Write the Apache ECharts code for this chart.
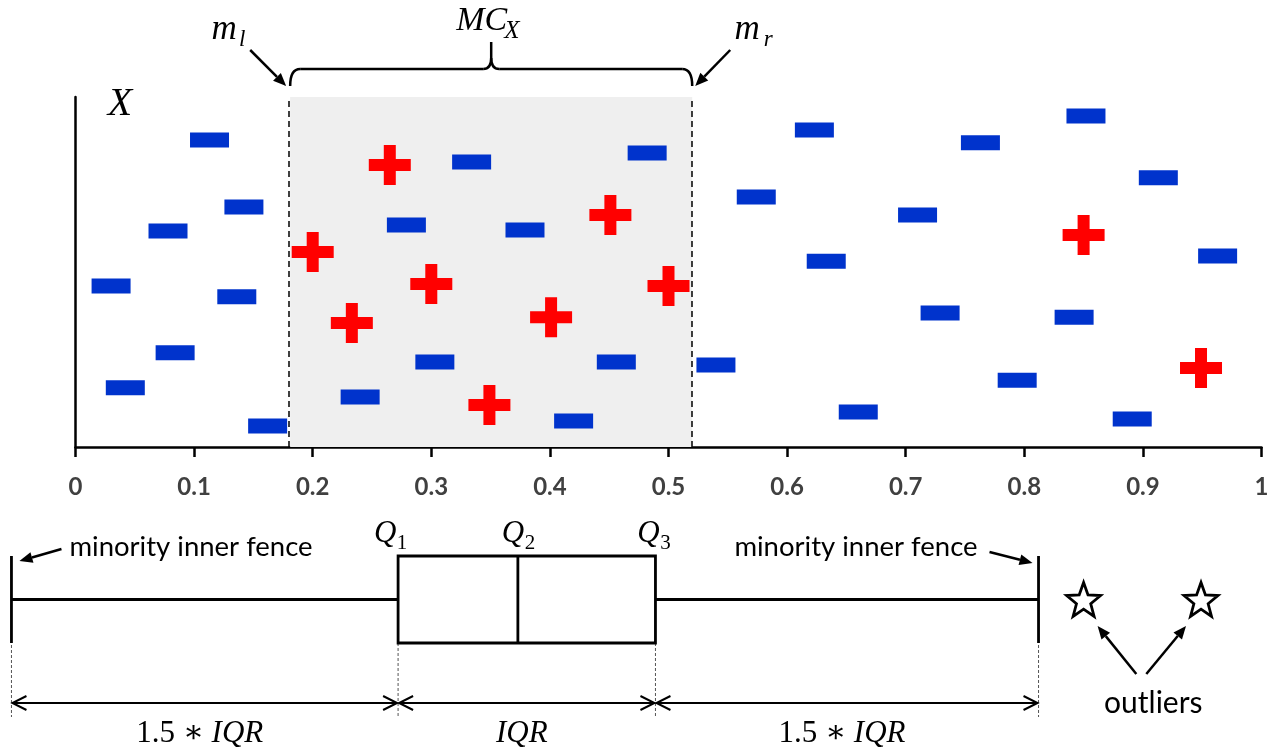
<!DOCTYPE html>
<html>
<head>
<meta charset="utf-8">
<title>MC_X overlap and minority boxplot</title>
<script src="https://cdn.jsdelivr.net/npm/echarts@6/dist/echarts.min.js"></script>
<style>
  html, body { margin: 0; padding: 0; background: #fff; }
  #main { width: 1274px; height: 753px; }
</style>
</head>
<body>
<div id="main"></div>
<script>
// majority class samples (blue bars)
var majorityX = [0.113, 0.142, 0.078, 0.030, 0.136, 0.084, 0.042, 0.162, 0.334, 0.279,
                 0.379, 0.482, 0.303, 0.240, 0.456, 0.420, 0.540, 0.574, 0.623, 0.633,
                 0.710, 0.763, 0.852, 0.913, 0.963, 0.729, 0.842, 0.794, 0.660, 0.891];
var majorityY = [8.77, 6.86, 6.17, 4.60, 4.29, 2.69, 1.69, 0.60, 8.14, 6.34,
                 6.20, 8.40, 2.43, 1.43, 2.43, 0.74, 2.34, 7.14, 9.06, 5.31,
                 6.63, 8.69, 9.46, 7.69, 5.46, 3.83, 3.71, 1.91, 1.00, 0.80];
// minority class samples (red crosses)
var minorityX = [0.265, 0.200, 0.300, 0.233, 0.451, 0.500, 0.401, 0.349, 0.850, 0.949];
var minorityY = [8.06, 5.57, 4.66, 3.54, 6.63, 4.60, 3.71, 1.20, 6.06, 2.26];
// overlap region m_l .. m_r
var overlap = [0.181, 0.52];
// minority boxplot: lower fence, Q1, Q2, Q3, upper fence
var boxValues = [-0.054, 0.272, 0.373, 0.489, 0.812];
var outliers = [0.85, 0.949];

var mathFont = '"Liberation Serif", "DejaVu Serif", serif';
var sansFont = 'Lato, "Open Sans", sans-serif';

var plusPath = 'path://M15,0H27V14H42V26H27V40H15V26H0V14H15Z';
var starPath = 'path://M50,0L62.34,33.01L97.55,34.55L69.97,56.49L79.39,90.45L50,71L20.61,90.45L30.03,56.49L2.45,34.55L37.66,33.01Z';

function pairs(xs, ys) {
  var out = [];
  for (var i = 0; i < xs.length; i++) out.push([xs[i], ys[i]]);
  return out;
}

var option = {
  animation: false,
  backgroundColor: '#fff',
  grid: [
    {left: 75.5, right: 12.5, top: 97, bottom: 306},
    // same scale as the top axis, shifted to show the lower fence
    {left: 4.34, right: 12.5, top: 556, height: 87}
  ],
  xAxis: [
    {
      type: 'value', gridIndex: 0, min: 0, max: 1, interval: 0.1,
      axisLine: {show: true, lineStyle: {color: '#000', width: 2.5}},
      axisTick: {show: true, length: 10, lineStyle: {color: '#000', width: 2.5}},
      axisLabel: {margin: 28, color: '#404040', fontSize: 24, fontWeight: 'bold', fontFamily: sansFont},
      splitLine: {show: false}
    },
    {type: 'value', gridIndex: 1, min: -0.06, max: 1, show: false}
  ],
  yAxis: [
    {
      type: 'value', gridIndex: 0, min: 0, max: 10,
      axisLine: {show: true, lineStyle: {color: '#000', width: 2.5}},
      axisTick: {show: false}, axisLabel: {show: false}, splitLine: {show: false}
    },
    {type: 'category', gridIndex: 1, data: ['minority'], show: false}
  ],
  series: [
    {
      name: 'majority', type: 'scatter', xAxisIndex: 0, yAxisIndex: 0,
      symbol: 'rect', symbolSize: [39, 15],
      itemStyle: {color: '#0033cc', opacity: 1},
      data: pairs(majorityX, majorityY),
      markArea: {
        silent: true, z: 1,
        itemStyle: {color: '#efefef'},
        data: [[{xAxis: overlap[0]}, {xAxis: overlap[1]}]]
      },
      markLine: {
        silent: true, symbol: 'none', label: {show: false},
        lineStyle: {color: '#000', width: 1.5, type: [6, 4]},
        data: [{xAxis: overlap[0]}, {xAxis: overlap[1]}]
      }
    },
    {
      name: 'minority', type: 'scatter', xAxisIndex: 0, yAxisIndex: 0,
      symbol: plusPath, symbolSize: [42, 40],
      itemStyle: {color: '#ff0000', opacity: 1},
      data: pairs(minorityX, minorityY)
    },
    {
      name: 'box', type: 'boxplot', xAxisIndex: 1, yAxisIndex: 1,
      boxWidth: [87, 87],
      itemStyle: {color: '#fff', borderColor: '#000', borderWidth: 2.8},
      data: [boxValues]
    },
    {
      name: 'outliers', type: 'scatter', xAxisIndex: 1, yAxisIndex: 1,
      symbol: starPath, symbolSize: 34,
      itemStyle: {color: '#fff', borderColor: '#000', borderWidth: 2.8, opacity: 1},
      data: outliers.map(function (v) { return [v, 'minority']; })
    }
  ]
};

var chart = echarts.init(document.getElementById('main'));
chart.setOption(option);

// pixel helpers from the axes
var px = function (v) { return chart.convertToPixel({xAxisIndex: 0}, v); };
var py = function (v) { return chart.convertToPixel({yAxisIndex: 0}, v); };
var bx = function (v) { return chart.convertToPixel({xAxisIndex: 1}, v); };

function seg(x1, y1, x2, y2, w, dash, color) {
  return {type: 'line', silent: true, shape: {x1: x1, y1: y1, x2: x2, y2: y2},
    style: {stroke: color || '#000', lineWidth: w, lineDash: dash || null}};
}
function curve(x1, y1, cx, cy, x2, y2) {
  return {type: 'bezierCurve', silent: true, shape: {x1: x1, y1: y1, cpx1: cx, cpy1: cy, x2: x2, y2: y2},
    style: {stroke: '#000', lineWidth: 2.5, fill: null}};
}
function arrow(x1, y1, x2, y2) {
  var a = Math.atan2(y2 - y1, x2 - x1), L = 13, W = 5.5;
  var hx = x2 - L * Math.cos(a), hy = y2 - L * Math.sin(a);
  return [
    seg(x1, y1, hx, hy, 2.5),
    {type: 'polygon', silent: true, shape: {points: [[x2, y2],
      [hx - W * Math.sin(a), hy + W * Math.cos(a)], [hx + W * Math.sin(a), hy - W * Math.cos(a)]]},
      style: {fill: '#000'}}
  ];
}
function chevron(x, y, dir) {
  return {type: 'polyline', silent: true, shape: {points: [[x + dir * 14, y - 7], [x, y], [x + dir * 14, y + 7]]},
    style: {stroke: '#000', lineWidth: 2, fill: null}};
}
function txt(x, y, s, size, fam, italic, align) {
  return {type: 'text', silent: true, x: x, y: y,
    style: {text: s, fontSize: size, fontFamily: fam, fontStyle: italic ? 'italic' : 'normal',
      fill: '#000', align: align || 'center', verticalAlign: 'middle'}};
}

var g = [];
var plotTop = py(10);
var xl = px(overlap[0]), xr = px(overlap[1]), xm = (xl + xr) / 2;
var braceY = plotTop - 28;

// axis name X
g.push(txt(120, 104, 'X', 40, mathFont, true));

// brace over the overlap region
g.push(curve(xl, plotTop - 11, xl, braceY, xl + 10, braceY));
g.push(seg(xl + 10, braceY, xm - 8, braceY, 2.5));
g.push(curve(xm - 8, braceY, xm, braceY, xm, braceY - 11));
g.push(seg(xm, braceY - 11, xm, braceY - 27, 2.5));
g.push(curve(xm, braceY - 11, xm, braceY, xm + 8, braceY));
g.push(seg(xm + 8, braceY, xr - 10, braceY, 2.5));
g.push(curve(xr - 10, braceY, xr, braceY, xr, plotTop - 11));

// MC_X
g.push(txt(xm + 16, 21, 'MC', 34, mathFont, true, 'right'));
g.push(txt(xm + 13, 31, 'X', 25, mathFont, true, 'left'));

// m_l and m_r with arrows
g.push(txt(xl - 66, 30, 'm', 35, mathFont, true));
g.push(txt(xl - 48, 40, 'l', 23, mathFont, true));
g = g.concat(arrow(xl - 40, 50, xl - 4, 86));
g.push(txt(xr + 55, 30, 'm', 35, mathFont, true));
g.push(txt(xr + 76, 40, 'r', 23, mathFont, true));
g = g.concat(arrow(xr + 38, 50, xr + 3, 86));

// boxplot annotations
var fL = bx(boxValues[0]), q1 = bx(boxValues[1]), q2 = bx(boxValues[2]), q3 = bx(boxValues[3]), fR = bx(boxValues[4]);
var qLabels = [[q1, '1', -7], [q2, '2', 1], [q3, '3', -1]];
qLabels.forEach(function (q) {
  g.push(txt(q[0] + q[2] - 6, 534, 'Q', 31, mathFont, true));
  g.push(txt(q[0] + q[2] + 11, 543, q[1], 21, mathFont, false));
});

g.push(txt(fL + 58, 547, 'minority inner fence', 27.5, sansFont, false, 'left'));
g = g.concat(arrow(fL + 50, 549, fL + 8, 561));
g.push(txt(fR - 61, 547, 'minority inner fence', 27.5, sansFont, false, 'right'));
g = g.concat(arrow(fR - 49, 552, fR - 6, 563));

// dotted guides down to the range arrows
[[fL, 645], [q1, 643], [q3, 643], [fR, 645]].forEach(function (d) {
  g.push(seg(d[0], d[1], d[0], 717, 1, [3, 2], '#555'));
});

var arrowY = 703;
var ranges = [[fL, q1, '1.5 ∗ '], [q1, q3, ''], [q3, fR, '1.5 ∗ ']];
ranges.forEach(function (r) {
  g.push(seg(r[0] + 1, arrowY, r[1] - 1, arrowY, 2));
  g.push(chevron(r[0] + 1, arrowY, 1));
  g.push(chevron(r[1] - 1, arrowY, -1));
  g.push({type: 'text', silent: true, x: (r[0] + r[1]) / 2 - 5, y: 734,
    style: {text: (r[2] ? '{n|' + r[2] + '}' : '') + '{i|IQR}', align: 'center', verticalAlign: 'middle',
      rich: {
        n: {fontSize: 31, fontFamily: mathFont, fill: '#000'},
        i: {fontSize: 31, fontFamily: mathFont, fontStyle: 'italic', fill: '#000'}
      }}});
});

// outliers label and arrows
var o1 = bx(outliers[0]), o2 = bx(outliers[1]);
g.push(txt((o1 + o2) / 2 + 11, 703, 'outliers', 30, sansFont, false));
g = g.concat(arrow((o1 + o2) / 2 - 6, 674, o1 + 14, 626));
g = g.concat(arrow((o1 + o2) / 2 + 4, 674, o2 - 15, 626));

chart.setOption({graphic: {elements: g}});
</script>
</body>
</html>
